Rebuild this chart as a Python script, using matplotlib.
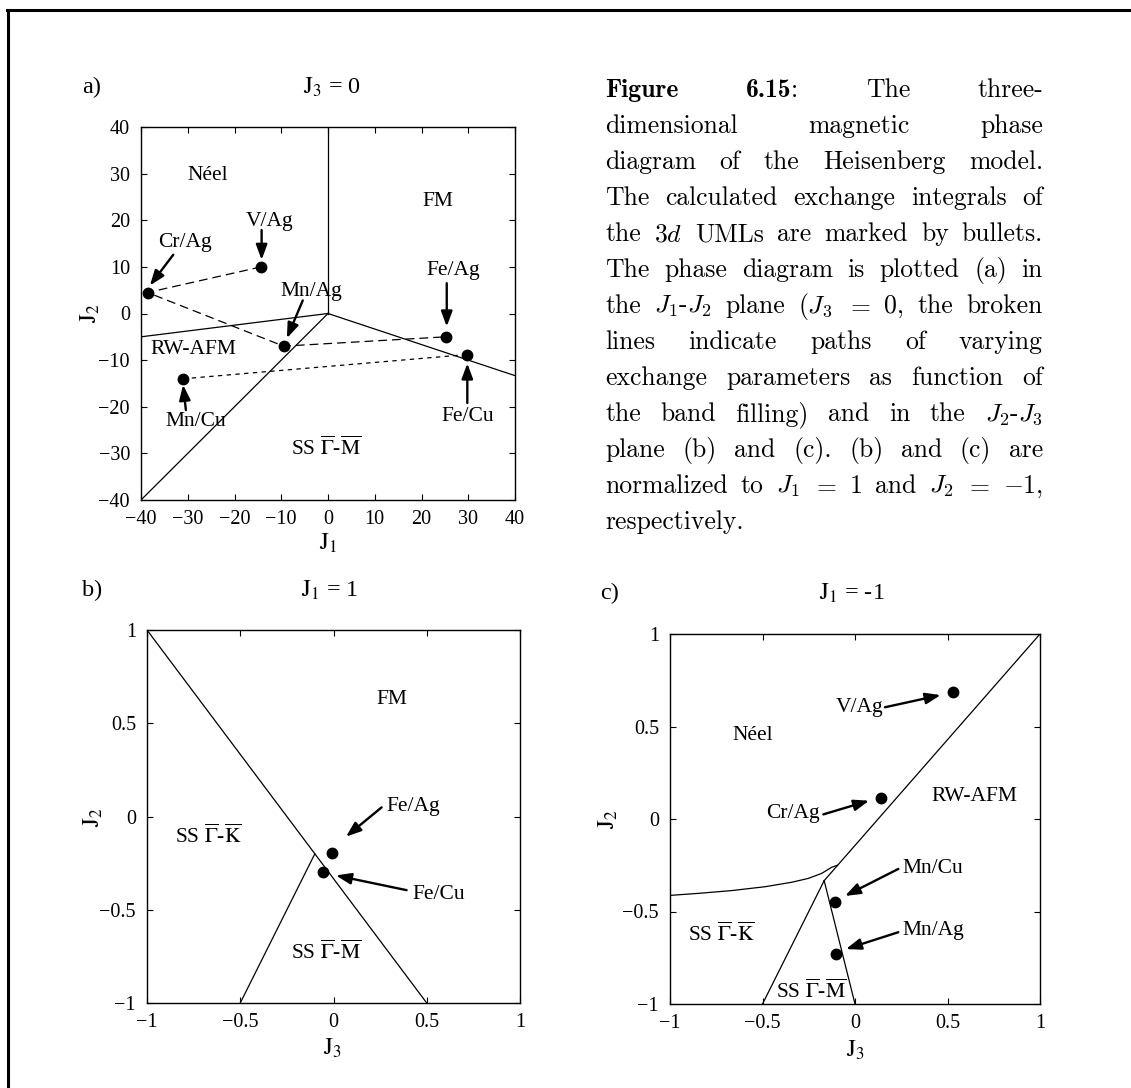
import re
import matplotlib
matplotlib.use('Agg')
import matplotlib.pyplot as plt
import matplotlib.transforms as mtransforms
from matplotlib.lines import Line2D
from matplotlib.ticker import FuncFormatter, MultipleLocator

W, H = 1131, 1088
plt.rcParams['font.family'] = ['Liberation Serif', 'DejaVu Serif']
plt.rcParams['mathtext.fontset'] = 'stix'
plt.rcParams['font.size'] = 15

TICK_FS = 14.5
LABEL_FS = 15.5
TITLE_FS = 17.5

# ---- (a) J1-J2 plane, J3 = 0
a_names = ['Cr/Ag', 'V/Ag', 'Mn/Ag', 'Mn/Cu', 'Fe/Ag', 'Fe/Cu']
a_j1 = [-38.6, -14.3, -9.5, -31.0, 25.2, 29.8]
a_j2 = [4.5, 10.0, -7.0, -14.0, -5.0, -8.8]
ag_path = ['V/Ag', 'Cr/Ag', 'Mn/Ag', 'Fe/Ag']
cu_path = ['Mn/Cu', 'Fe/Cu']
a_bounds = [([0, 0], [0, 40]), ([-40, 0], [-5, 0]),
            ([0, 40], [0, -13.33]), ([-40, 0], [-40, 0])]

# ---- (b) J3-J2 plane, J1 = 1
b_names = ['Fe/Ag', 'Fe/Cu']
b_j3 = [-0.01, -0.058]
b_j2 = [-0.195, -0.297]
b_bounds = [([-1, 0.5], [1, -1]), ([-0.1, -0.5], [-0.2, -1])]

# ---- (c) J3-J2 plane, J1 = -1
c_names = ['V/Ag', 'Cr/Ag', 'Mn/Cu', 'Mn/Ag']
c_j3 = [0.528, 0.139, -0.108, -0.104]
c_j2 = [0.685, 0.112, -0.447, -0.730]
c_bounds = [([1, -1 / 6], [1, -1 / 3]), ([-1 / 6, -0.5], [-1 / 3, -1]),
            ([-1 / 6, 0], [-1 / 3, -1])]
c_curve_j3 = [-1.0, -0.847, -0.667, -0.486, -0.342, -0.252, -0.180, -0.126, -0.095]
c_curve_j2 = [-0.413, -0.402, -0.387, -0.366, -0.342, -0.321, -0.294, -0.261, -0.250]

GM = r'SS $\overline{\Gamma}$-$\overline{\mathrm{M}}$'
GK = r'SS $\overline{\Gamma}$-$\overline{\mathrm{K}}$'

fig = plt.figure(figsize=(W / 100, H / 100), dpi=100)


def px_axes(x0, y0, x1, y1):
    return fig.add_axes([x0 / W, 1 - y1 / H, (x1 - x0) / W, (y1 - y0) / H])


def ftext(x, y, s, **kw):
    fig.text(x / W, 1 - y / H, s, ha='center', va='center', fontsize=TITLE_FS, **kw)


def style(ax, lim, step):
    ax.set_xlim(-lim, lim)
    ax.set_ylim(-lim, lim)
    ax.xaxis.set_major_locator(MultipleLocator(step))
    ax.yaxis.set_major_locator(MultipleLocator(step))
    fmt = FuncFormatter(lambda v, _: f'{v:g}'.replace('-', '\u2212'))
    ax.xaxis.set_major_formatter(fmt)
    ax.yaxis.set_major_formatter(fmt)
    ax.tick_params(direction='in', top=True, right=True, length=4, width=0.8,
                   labelsize=TICK_FS)
    ax.tick_params(axis='x', pad=7)
    ax.tick_params(axis='y', pad=8)
    for sp in ax.spines.values():
        sp.set_linewidth(1.0)


def label(ax, x, y, s):
    ax.text(x, y, s, ha='center', va='center', fontsize=LABEL_FS)


def arrow(ax, tail, head):
    ax.annotate('', xy=head, xytext=tail,
                arrowprops=dict(arrowstyle='-|>,head_length=0.65,head_width=0.24',
                                lw=1.7, color='k', mutation_scale=14,
                                shrinkA=0, shrinkB=0))


# ---------------- panel a
ax = px_axes(141, 127, 515, 500)
style(ax, 40, 10)
for xs, ys in a_bounds:
    ax.plot(xs, ys, color='k', lw=0.9)
pos = dict(zip(a_names, zip(a_j1, a_j2)))
ax.plot([pos[n][0] for n in ag_path], [pos[n][1] for n in ag_path],
        color='k', lw=0.9, dashes=(7, 4))
ax.plot([pos[n][0] for n in cu_path], [pos[n][1] for n in cu_path],
        color='k', lw=0.9, dashes=(3.5, 3.5))
ax.plot(a_j1, a_j2, 'o', color='k', ms=7.5)
label(ax, -25.8, 29.7, 'Néel')
label(ax, 23.6, 24.0, 'FM')
label(ax, -28.8, -7.7, 'RW-AFM')
label(ax, -0.5, -28.9, GM)
a_lab = {'Cr/Ag': ((-30.5, 15.2), (-33.1, 12.6), (-38.1, 6.0)),
         'V/Ag': ((-12.6, 19.7), (-14.2, 17.9), (-14.2, 11.5)),
         'Mn/Ag': ((-3.5, 4.7), (-5.4, 2.8), (-8.8, -5.3)),
         'Fe/Ag': ((26.7, 9.2), (25.4, 6.5), (25.4, -2.8)),
         'Fe/Cu': ((29.8, -22.0), (29.8, -19.2), (29.8, -10.7)),
         'Mn/Cu': ((-28.2, -23.2), (-30.4, -20.7), (-31.0, -15.3))}
for name, (txy, tail, head) in a_lab.items():
    label(ax, *txy, name)
    arrow(ax, tail, head)
ftext(92, 87, 'a)')
ftext(332, 87, r'$\mathrm{J}_3$ = 0')
ftext(328, 543, r'$\mathrm{J}_1$')
ftext(90, 313, r'$\mathrm{J}_2$', rotation=90)

# ---------------- panel b
ax = px_axes(147, 630, 520, 1003)
style(ax, 1, 0.5)
for xs, ys in b_bounds:
    ax.plot(xs, ys, color='k', lw=0.9)
ax.plot(b_j3, b_j2, 'o', color='k', ms=7.5)
label(ax, 0.312, 0.625, 'FM')
label(ax, -0.671, -0.108, GK)
label(ax, -0.042, -0.73, GM)
b_lab = {'Fe/Ag': ((0.43, 0.056), (0.258, 0.049), (0.067, -0.108)),
         'Fe/Cu': ((0.566, -0.416), (0.392, -0.395), (0.013, -0.316))}
for name, (txy, tail, head) in b_lab.items():
    label(ax, *txy, name)
    arrow(ax, tail, head)
ftext(92, 590, 'b)')
ftext(330, 590, r'$\mathrm{J}_1$ = 1')
ftext(332, 1048, r'$\mathrm{J}_3$')
ftext(93, 817, r'$\mathrm{J}_2$', rotation=90)

# ---------------- panel c
ax = px_axes(670, 634, 1040, 1004)
style(ax, 1, 0.5)
for xs, ys in c_bounds:
    ax.plot(xs, ys, color='k', lw=0.9)
ax.plot(c_curve_j3, c_curve_j2, color='k', lw=0.9)
ax.plot(c_j3, c_j2, 'o', color='k', ms=7.5)
label(ax, -0.553, 0.45, 'Néel')
label(ax, 0.645, 0.121, 'RW-AFM')
label(ax, -0.724, -0.623, GK)
label(ax, -0.239, -0.933, GM)
c_lab = {'V/Ag': ((0.023, 0.604), (0.162, 0.604), (0.463, 0.670)),
         'Cr/Ag': ((-0.333, 0.031), (-0.171, 0.025), (0.076, 0.099)),
         'Mn/Cu': ((0.418, -0.267), (0.234, -0.270), (-0.054, -0.416)),
         'Mn/Ag': ((0.424, -0.604), (0.234, -0.612), (-0.049, -0.703))}
for name, (txy, tail, head) in c_lab.items():
    label(ax, *txy, name)
    arrow(ax, tail, head)
ftext(610, 593, 'c)')
ftext(852, 593, r'$\mathrm{J}_1$ = -1')
ftext(855, 1050, r'$\mathrm{J}_3$')
ftext(608, 819, r'$\mathrm{J}_2$', rotation=90)

# ---------------- caption, justified between two margins
# **...** marks bold pieces; words are separated by spaces
cap_lines = [
    '**Figure** **6.15**: The three-',
    'dimensional magnetic phase',
    'diagram of the Heisenberg model.',
    'The calculated exchange integrals of',
    'the $3d$ UMLs are marked by bullets.',
    'The phase diagram is plotted (a) in',
    'the $J_1$-$J_2$ plane ($J_3$ $=$ 0, the broken',
    'lines indicate paths of varying',
    'exchange parameters as function of',
    'the band filling) and in the $J_2$-$J_3$',
    'plane (b) and (c). (b) and (c) are',
    'normalized to $J_1$ $=$ 1 and $J_2$ $=$ $-1$,',
    'respectively.',
]
cap_left, cap_right = 605, 1043
base0, lead = 97, 36
renderer = fig.canvas.get_renderer()
ident = mtransforms.IdentityTransform()
for i, line in enumerate(cap_lines):
    ybase = H - (base0 + i * lead)
    words = []
    for w in line.split():
        parts = []
        for seg in re.split(r'(\*\*.*?\*\*)', w):
            if not seg:
                continue
            bold = seg.startswith('**')
            t = fig.text(0, ybase, seg.strip('*'), transform=ident, va='baseline',
                         ha='left', fontfamily='cmb10' if bold else 'cmr10',
                         math_fontfamily='cm', fontsize=18.5)
            parts.append((t, t.get_window_extent(renderer).width))
        words.append(parts)
    widths = [sum(p[1] for p in parts) for parts in words]
    if i < len(cap_lines) - 1 and len(words) > 1:
        gap = (cap_right - cap_left - sum(widths)) / (len(words) - 1)
    else:
        gap = 7
    x = cap_left
    for parts, w in zip(words, widths):
        xx = x
        for t, pw in parts:
            t.set_x(xx)
            xx += pw
        x += w + gap

# outer frame, left and top edges
fig.add_artist(Line2D([7.5 / W, 7.5 / W], [0, 1 - 9.5 / H], transform=fig.transFigure,
                      color='k', lw=2.2))
fig.add_artist(Line2D([6.5 / W, 1], [1 - 9.5 / H, 1 - 9.5 / H], transform=fig.transFigure,
                      color='k', lw=2.2))

fig.savefig('out.png', dpi=100)
